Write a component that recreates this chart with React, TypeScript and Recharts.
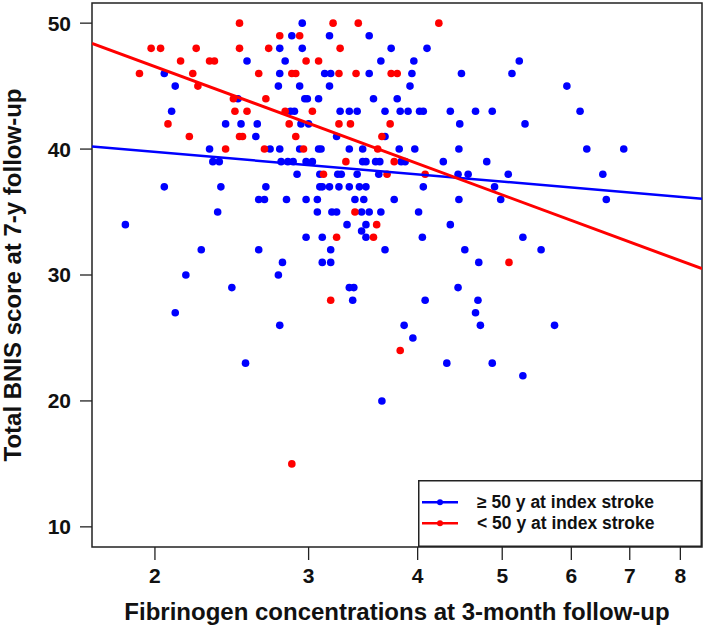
import { ScatterChart, Scatter, XAxis, YAxis, ReferenceArea, Legend, Label } from 'recharts';

const FONT = 'Liberation Sans, Arial, Helvetica, sans-serif';

const X_TICKS = [2, 3, 4, 5, 6, 7, 8];
const Y_TICKS = [10, 20, 30, 40, 50];
const X_DOMAIN: [number, number] = [1.694, 8.47];
const Y_DOMAIN: [number, number] = [8.4, 51.6];

const SERIES_LABELS = ['≥ 50 y at index stroke', '< 50 y at index stroke'];
const SERIES_COLORS = ['#0000ff', '#ff0000'];

// [fibrinogen, BNIS] — patients aged >= 50 at index stroke
const OLDER: [number, number][] = [
  [2.55, 47], [2.05, 46], [2.11, 45], [2.49, 44], [2.09, 43], [2.41, 42], [2.51, 42], [2.62, 42],
  [2.61, 41], [2.31, 40], [2.71, 40], [2.33, 39], [2.37, 39], [2.05, 37], [2.38, 37], [2.68, 37],
  [2.63, 36], [2.67, 36], [2.36, 35], [1.85, 34], [2.26, 32], [2.63, 32], [2.17, 30], [2.45, 29],
  [2.11, 27], [2.54, 23], [3.64, 20],
  [2.95, 50], [2.87, 49], [3.17, 49], [3.52, 49],
  [2.78, 48], [2.95, 48], [3.73, 48], [4.10, 48],
  [2.82, 47], [3.63, 47], [3.96, 47],
  [2.78, 46], [3.13, 46], [3.18, 46], [3.52, 46], [3.94, 46], [4.49, 46],
  [2.77, 45], [2.93, 45], [3.17, 45], [3.92, 45],
  [2.97, 44], [2.99, 44], [3.08, 44], [3.56, 44], [3.79, 44],
  [2.86, 43], [2.89, 43], [3.26, 43], [3.34, 43], [3.41, 43], [3.67, 43], [3.82, 43], [3.90, 43],
  [4.02, 43], [4.06, 43], [4.36, 43], [4.66, 43],
  [2.94, 42], [3.00, 42], [4.47, 42],
  [3.23, 41], [3.67, 41],
  [2.78, 40], [2.93, 40], [3.08, 40], [3.10, 40], [3.34, 40], [3.46, 40], [3.81, 40], [3.97, 40], [4.46, 40],
  [2.79, 39], [2.84, 39], [2.88, 39], [2.98, 39], [3.03, 39], [3.46, 39], [3.49, 39], [3.58, 39],
  [3.62, 39], [3.83, 39], [3.87, 39], [4.28, 39],
  [2.91, 38], [3.09, 38], [3.24, 38], [3.27, 38], [3.41, 38], [3.61, 38], [4.45, 38], [4.57, 38],
  [3.09, 37], [3.11, 37], [3.17, 37], [3.25, 37], [3.34, 37], [3.43, 37], [3.49, 37], [4.06, 37],
  [2.83, 36], [2.98, 36], [3.07, 36], [3.39, 36], [3.47, 36], [3.76, 36], [4.46, 36],
  [3.07, 35], [3.19, 35], [3.23, 35], [3.45, 35], [3.52, 35], [3.63, 35], [4.01, 35],
  [3.32, 34], [3.49, 34], [4.36, 34], [3.45, 33.5],
  [2.98, 33], [3.11, 33], [3.49, 33], [4.05, 33],
  [3.18, 32], [3.67, 32], [4.53, 32],
  [2.80, 31], [3.11, 31], [3.18, 31], [2.77, 30],
  [3.34, 29], [3.38, 29], [4.45, 29],
  [3.37, 28], [4.08, 28], [2.78, 26], [3.86, 26], [3.95, 25], [4.32, 23],
  [5.23, 47], [5.13, 46], [5.93, 45], [4.87, 43], [6.14, 43], [5.31, 42], [6.25, 40], [6.89, 40],
  [4.80, 39], [5.08, 38], [6.52, 38], [4.90, 37], [4.98, 36], [6.58, 36],
  [5.28, 33], [5.54, 32], [4.70, 31], [4.69, 28], [4.66, 27], [4.72, 26], [5.74, 26], [4.87, 23], [5.28, 22],
];

// [fibrinogen, BNIS] — patients aged < 50 at index stroke
const YOUNGER: [number, number][] = [
  [2.50, 50], [1.98, 48], [2.03, 48], [2.23, 48], [2.50, 48], [2.70, 48], [2.14, 47], [2.31, 47],
  [2.34, 47], [1.92, 46], [2.21, 46], [2.63, 46], [2.24, 45], [2.46, 44], [2.68, 44], [2.47, 43],
  [2.55, 43], [2.07, 42], [2.19, 41], [2.50, 41], [2.52, 41], [2.41, 40], [2.67, 40],
  [3.20, 50], [3.42, 50], [4.23, 50], [2.78, 49], [2.93, 49], [3.26, 48], [2.98, 47], [3.08, 47],
  [2.87, 46], [2.90, 46], [3.25, 46], [3.40, 46], [3.73, 46], [3.79, 46],
  [2.82, 43], [3.03, 43], [2.85, 42], [3.25, 42], [3.35, 42], [3.72, 42],
  [2.90, 41], [3.64, 41], [2.96, 40], [3.60, 40], [3.31, 39], [3.76, 39],
  [3.12, 38], [3.69, 38], [4.08, 38],
  [3.39, 35], [3.59, 34], [3.23, 33], [3.56, 33], [3.18, 28], [3.82, 24], [2.87, 15], [5.09, 31],
];

// fitted lines (log x), endpoints at the plot edges
const OLDER_FIT: [number, number][] = [[1.694, 40.2], [8.47, 36.06]];
const YOUNGER_FIT: [number, number][] = [[1.694, 48.4], [8.47, 30.5]];

const toPoints = (rows: [number, number][]) => rows.map(([fib, bnis]) => ({ fib, bnis }));

const dot = (color: string) => (props: any) => (
  <circle cx={props.cx} cy={props.cy} r={3.8} fill={color} />
);

function LegendBox() {
  return (
    <svg width={284} height={67} style={{ display: 'block' }}>
      <rect x={0.75} y={0.75} width={282.5} height={65.5} fill="#fff" stroke="#222" strokeWidth={1.5} />
      {SERIES_LABELS.map((label, i) => {
        const y = 22.3 + 21 * i;
        return (
          <g key={label}>
            <line x1={4} x2={40} y1={y} y2={y} stroke={SERIES_COLORS[i]} strokeWidth={2.5} />
            <circle cx={22} cy={y} r={3} fill={SERIES_COLORS[i]} />
            <text x={59} y={y + 5.8} fontSize={17.5} fontWeight="bold" fontFamily={FONT} fill="#111">
              {label}
            </text>
          </g>
        );
      })}
    </svg>
  );
}

export default function App() {
  const tickStyle = { fontSize: 21, fontWeight: 'bold', fill: '#111', fontFamily: FONT };
  return (
    <div style={{ position: 'absolute', left: 0, top: 0 }}>
      <ScatterChart width={709} height={626} margin={{ top: 3, right: 7, bottom: 0, left: 0 }}>
        <XAxis
          dataKey="fib"
          type="number"
          scale="log"
          domain={X_DOMAIN}
          ticks={X_TICKS}
          allowDataOverflow
          height={79}
          axisLine={false}
          tickLine={{ stroke: '#222', strokeWidth: 1.3 }}
          tickSize={13}
          tickMargin={8}
          tick={tickStyle}
          interval={0}
        >
          <Label
            value="Fibrinogen concentrations at 3-month follow-up"
            position="insideBottom"
            offset={6}
            style={{ fontSize: 24, fontWeight: 'bold', fill: '#111', fontFamily: FONT }}
          />
        </XAxis>
        <YAxis
          dataKey="bnis"
          type="number"
          domain={Y_DOMAIN}
          ticks={Y_TICKS}
          allowDataOverflow
          width={92}
          axisLine={false}
          tickLine={{ stroke: '#222', strokeWidth: 1.3 }}
          tickSize={12}
          tickMargin={9}
          tick={tickStyle}
          interval={0}
        >
          <Label
            value="Total BNIS score at 7-y follow-up"
            angle={-90}
            position="insideLeft"
            offset={12}
            style={{ textAnchor: 'middle', fontSize: 24, fontWeight: 'bold', fill: '#111', fontFamily: FONT }}
          />
        </YAxis>
        <Scatter
          name={SERIES_LABELS[0]}
          data={toPoints(OLDER)}
          shape={dot(SERIES_COLORS[0])}
          isAnimationActive={false}
        />
        <Scatter
          name={SERIES_LABELS[1]}
          data={toPoints(YOUNGER)}
          shape={dot(SERIES_COLORS[1])}
          isAnimationActive={false}
        />
        <Scatter
          data={toPoints(OLDER_FIT)}
          line={{ stroke: SERIES_COLORS[0], strokeWidth: 2.5 }}
          shape={() => <g />}
          legendType="none"
          isAnimationActive={false}
        />
        <Scatter
          data={toPoints(YOUNGER_FIT)}
          line={{ stroke: SERIES_COLORS[1], strokeWidth: 3 }}
          shape={() => <g />}
          legendType="none"
          isAnimationActive={false}
        />
        <ReferenceArea
          x1={X_DOMAIN[0]}
          x2={X_DOMAIN[1]}
          y1={Y_DOMAIN[0]}
          y2={Y_DOMAIN[1]}
          fill="none"
          stroke="#222"
          strokeWidth={1.5}
          ifOverflow="visible"
        />
        <Legend
          layout="vertical"
          align="center"
          verticalAlign="middle"
          content={() => <LegendBox />}
          wrapperStyle={{ left: 418, top: 480, width: 284, height: 67, margin: 0 }}
        />
      </ScatterChart>
    </div>
  );
}
